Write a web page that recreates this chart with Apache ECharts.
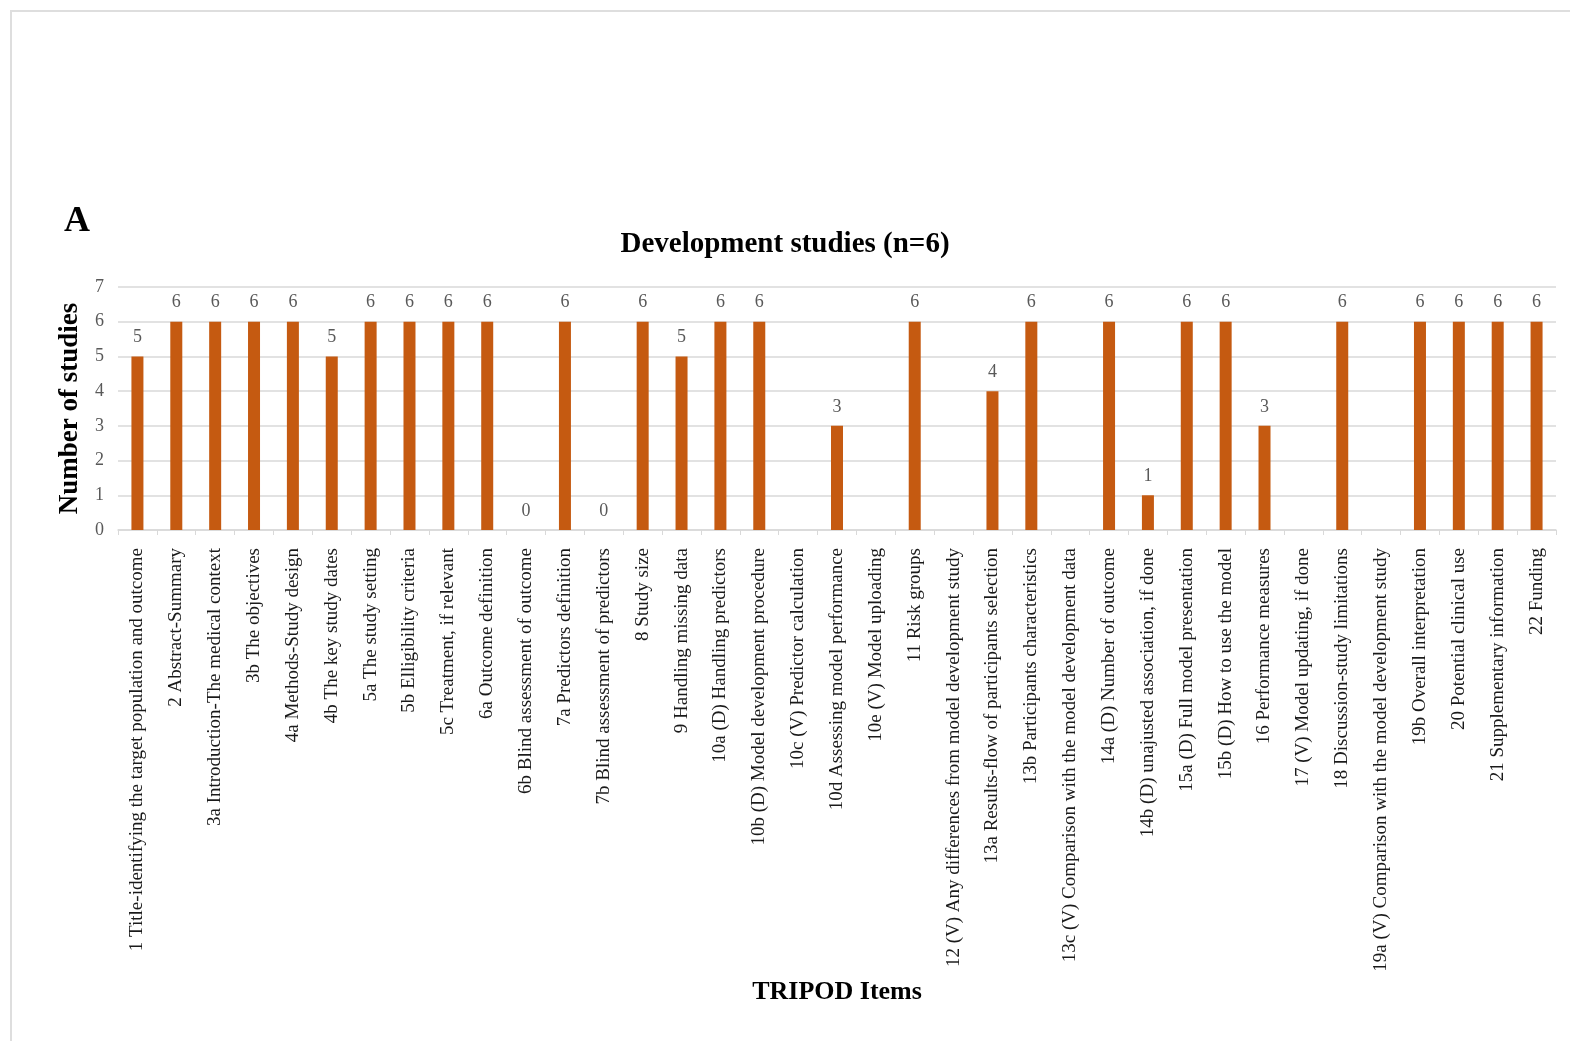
<!DOCTYPE html>
<html>
<head>
<meta charset="utf-8">
<script src="https://cdn.jsdelivr.net/npm/echarts@6/dist/echarts.min.js"></script>
<style>
html,body{margin:0;padding:0;background:#fff;}
#frame{position:absolute;left:10px;top:10px;width:1560px;height:1031px;border-top:2px solid #dedede;border-left:2px solid #dedede;box-sizing:border-box;}
#chart{position:absolute;left:0;top:0;width:1570px;height:1041px;}
</style>
</head>
<body>
<div id="frame"></div>
<div id="chart"></div>
<script>
const categories = [
  "1 Title-identifying the target population and outcome",
  "2 Abstract-Summary",
  "3a Introduction-The medical context",
  "3b The objectives",
  "4a Methods-Study design",
  "4b The key study dates",
  "5a The study setting",
  "5b Elligibility criteria",
  "5c Treatment, if relevant",
  "6a Outcome definition",
  "6b Blind assessment of outcome",
  "7a Predictors definition",
  "7b Blind assessment of predictors",
  "8 Study size",
  "9 Handling missing data",
  "10a (D) Handling predictors",
  "10b (D) Model development procedure",
  "10c (V) Predictor calculation",
  "10d Assessing model performance",
  "10e (V) Model uploading",
  "11 Risk groups",
  "12 (V) Any differences from model development study",
  "13a Results-flow of participants selection",
  "13b Participants characteristics",
  "13c (V) Comparison with the model development data",
  "14a (D) Number of outcome",
  "14b (D) unajusted association, if done",
  "15a (D) Full model presentation",
  "15b (D) How to use the model",
  "16 Performance measures",
  "17 (V) Model updating, if done",
  "18 Discussion-study limitations",
  "19a (V) Comparison with the model development study",
  "19b Overall interpretation",
  "20 Potential clinical use",
  "21 Supplementary information",
  "22 Funding"
];
const studies = [5,6,6,6,6,5,6,6,6,6,0,6,0,6,5,6,6,null,3,null,6,null,4,6,null,6,1,6,6,3,null,6,null,6,6,6,6];
const yTicks = [0,1,2,3,4,5,6,7];

const chart = echarts.init(document.getElementById('chart'));
const serif = '"Liberation Serif", "Times New Roman", serif';
chart.setOption({
  animation: false,
  title: {
    text: 'Development studies (n=6)',
    left: 'center',
    top: 225,
    textStyle: {fontFamily: serif, fontSize: 29, fontWeight: 'bold', color: '#000'}
  },
  graphic: [{
    type: 'text', left: 64, top: 204,
    style: {text: 'A', font: 'bold 36px "Liberation Serif", serif', fill: '#000'}
  }],
  grid: {left: 118, right: 14, top: 287, bottom: 511, containLabel: false},
  xAxis: {
    type: 'category',
    data: categories,
    name: 'TRIPOD Items',
    nameLocation: 'middle',
    nameGap: 449,
    nameTextStyle: {fontFamily: serif, fontSize: 26, fontWeight: 'bold', color: '#000'},
    axisLine: {lineStyle: {color: '#d9d9d9', width: 1.5}},
    axisTick: {show: true, alignWithLabel: false, length: 5, lineStyle: {color: '#d9d9d9'}},
    axisLabel: {interval: 0, rotate: 90, margin: 18, fontFamily: serif, fontSize: 19, color: '#1a1a1a'}
  },
  yAxis: {
    type: 'value',
    min: 0, max: 7, interval: 1,
    name: 'Number of studies',
    nameLocation: 'middle',
    nameRotate: 90,
    nameGap: 34,
    nameTextStyle: {fontFamily: serif, fontSize: 27, fontWeight: 'bold', color: '#000'},
    axisLine: {show: false},
    axisTick: {show: false},
    axisLabel: {margin: 14, fontFamily: serif, fontSize: 18, color: '#595959',
      formatter: v => yTicks.includes(v) ? String(v) : ''},
    splitLine: {lineStyle: {color: '#d9d9d9', width: 1.5}}
  },
  series: [{
    type: 'bar',
    data: studies,
    barWidth: 12,
    itemStyle: {color: '#c55a11'},
    label: {show: true, position: 'top', distance: 10, fontFamily: serif, fontSize: 18, color: '#595959'}
  }]
});
</script>
</body>
</html>
